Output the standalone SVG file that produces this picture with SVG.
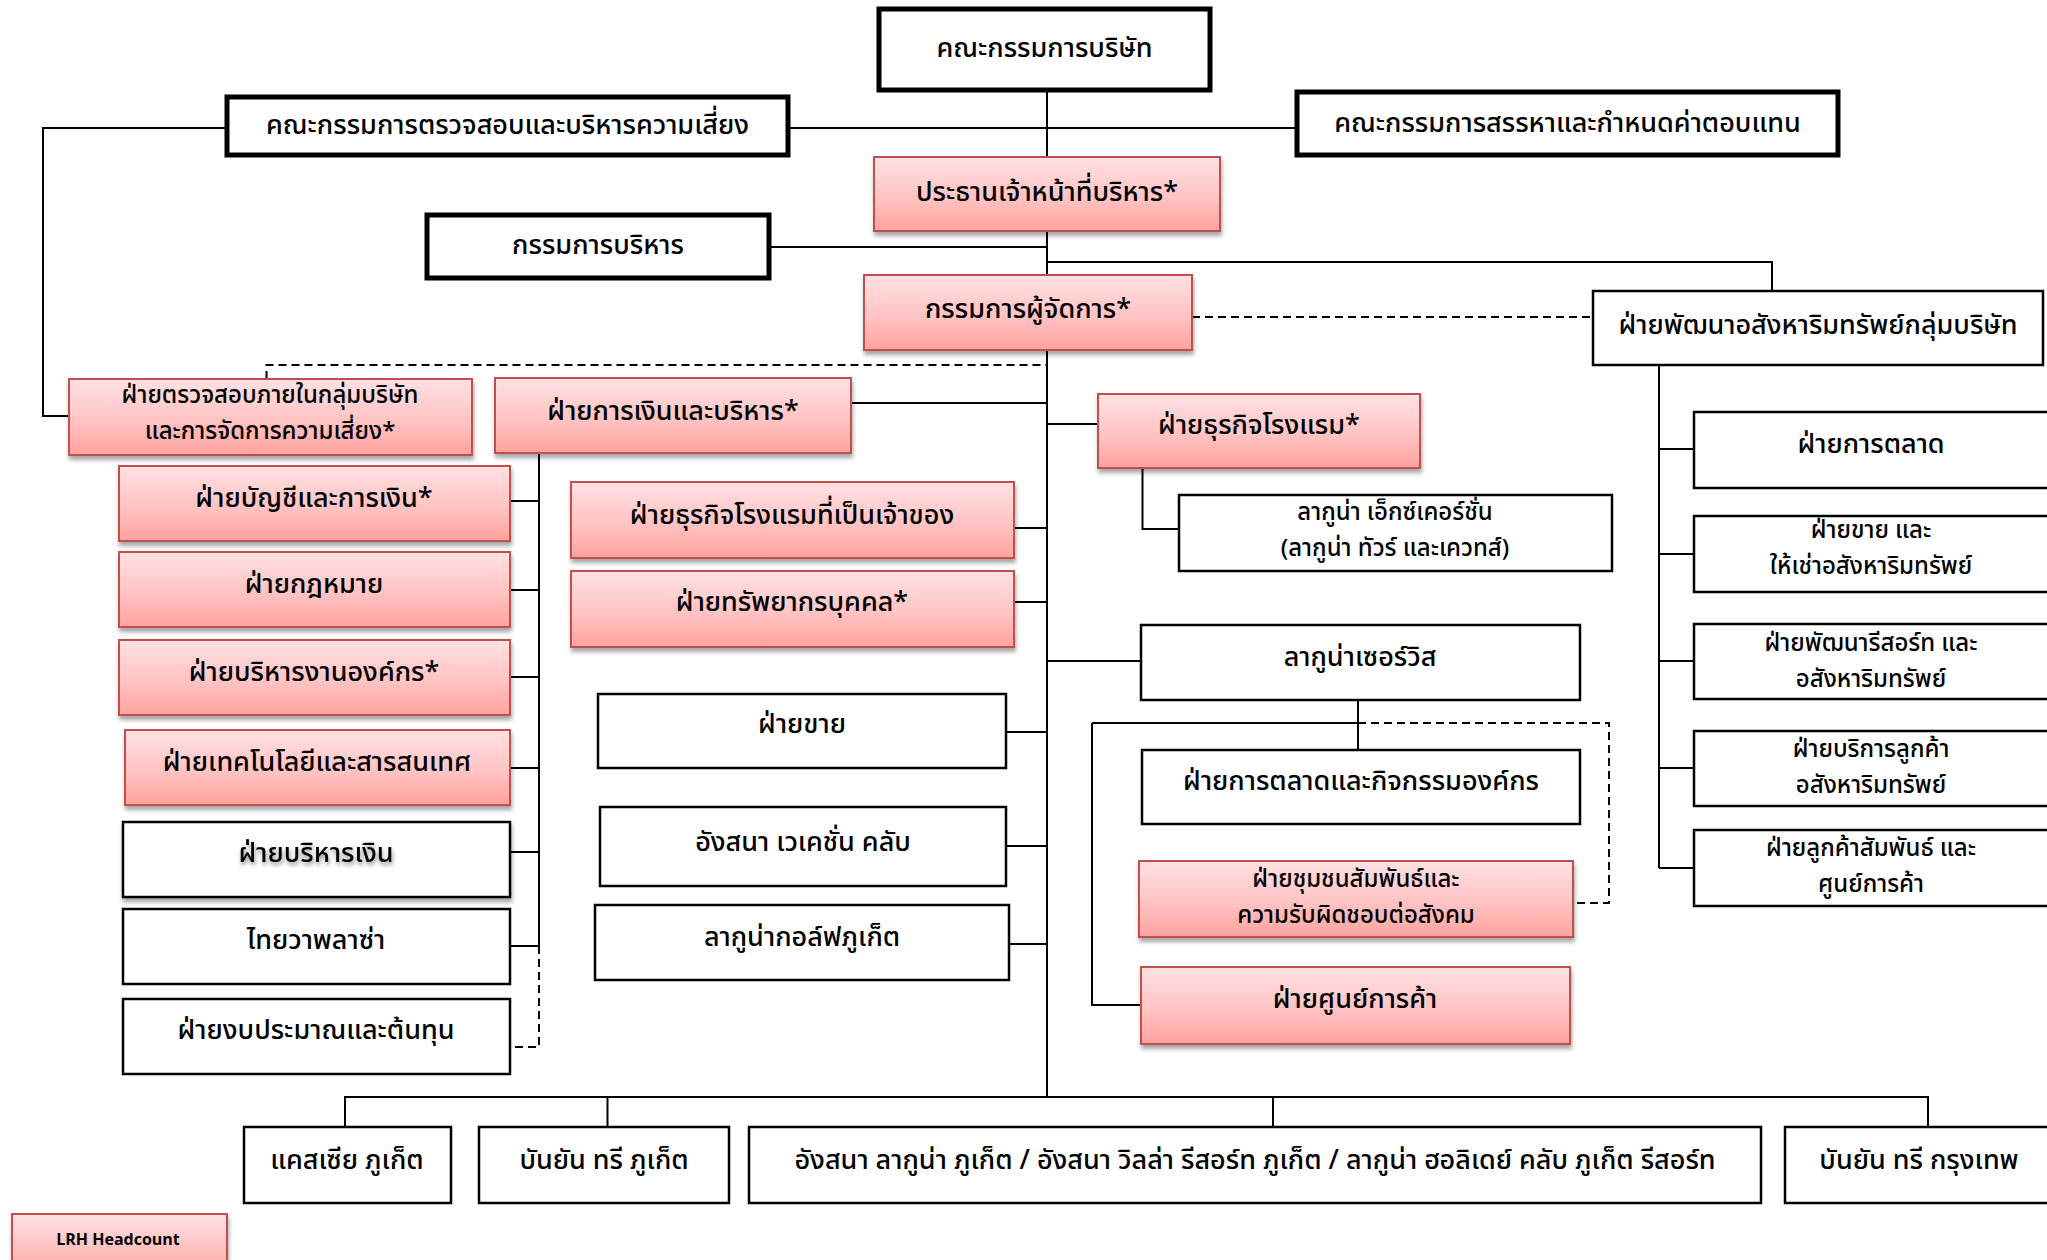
<svg xmlns="http://www.w3.org/2000/svg" width="2047" height="1260" viewBox="0 0 2047 1260">
<defs>
<linearGradient id="pg" x1="0" y1="0" x2="0" y2="1">
<stop offset="0" stop-color="#FFE1E3"/>
<stop offset="0.55" stop-color="#FFC3C3"/>
<stop offset="1" stop-color="#FFA29E"/>
</linearGradient>
<filter id="sh" x="-10%" y="-10%" width="125%" height="140%">
<feDropShadow dx="1" dy="4" stdDeviation="2" flood-color="#000" flood-opacity="0.35"/>
</filter>
<filter id="tsh" x="-10%" y="-30%" width="120%" height="170%">
<feDropShadow dx="1" dy="3" stdDeviation="2" flood-color="#000" flood-opacity="0.45"/>
</filter>
<style>
.thick{fill:#fff;stroke:#000;stroke-width:5}
.plain{fill:#fff;stroke:#000;stroke-width:2.5}
.pink{fill:url(#pg);stroke:#C0504D;stroke-width:2;filter:url(#sh)}
.ln{fill:none;stroke:#000;stroke-width:2}
.dash{fill:none;stroke:#000;stroke-width:2;stroke-dasharray:8 5}
text{font-family:"Noto Sans Thai","Noto Sans","DejaVu Sans",sans-serif;font-size:27px;font-weight:500;text-anchor:middle;dominant-baseline:central;fill:#000}
text.two{font-size:24px}
.lg{font-family:"Open Sans","Liberation Sans",sans-serif;font-weight:bold;font-size:16px}
</style>
</defs>
<g id="connectors">
<path class="ln" d="M1047,90 V1097"/>
<path class="ln" d="M788,128 H1297"/>
<path class="ln" d="M227,128 H43 V416 H69"/>
<path class="ln" d="M769,247 H1047"/>
<path class="ln" d="M1047,262 H1772 V291"/>
<path class="dash" d="M1192,317 H1593"/>
<path class="dash" d="M266.5,379 V365 H1047"/>
<path class="ln" d="M851,403 H1047"/>
<path class="ln" d="M539,453 V946"/>
<path class="ln" d="M510,501 H539 M510,590 H539 M510,677 H539 M510,768 H539 M510,852 H539 M510,946 H539"/>
<path class="dash" d="M539,946 V1047 H510"/>
<path class="ln" d="M1014,528 H1047 M1014,602 H1047 M1006,732 H1047 M1006,846 H1047 M1009,944 H1047"/>
<path class="ln" d="M1047,424 H1098"/>
<path class="ln" d="M1142.5,468 V529 H1179"/>
<path class="ln" d="M1047,661 H1141"/>
<path class="ln" d="M1358,700 V750"/>
<path class="ln" d="M1092,723 H1358"/>
<path class="dash" d="M1358,723 H1609 V903 H1573"/>
<path class="ln" d="M1092,723 V1005 H1141"/>
<path class="ln" d="M1659,365 V868"/>
<path class="ln" d="M1659,449 H1694 M1659,554 H1694 M1659,661 H1694 M1659,768 H1694 M1659,868 H1694"/>
<path class="ln" d="M345,1127 V1097 H1928 V1127 M607.5,1097 V1127 M1273,1097 V1127"/>
</g>
<g id="board"><rect class="thick" x="879" y="9" width="331" height="81"/><text x="1044.5" y="48">คณะกรรมการบริษัท</text></g>
<g id="audit-committee"><rect class="thick" x="227" y="97" width="561" height="58"/><text x="507.5" y="125">คณะกรรมการตรวจสอบและบริหารความเสี่ยง</text></g>
<g id="nomination-committee"><rect class="thick" x="1297" y="92" width="541" height="63"/><text x="1567.5" y="123">คณะกรรมการสรรหาและกำหนดค่าตอบแทน</text></g>
<g id="ceo"><rect class="pink" x="874" y="157" width="346" height="74"/><text x="1047" y="192">ประธานเจ้าหน้าที่บริหาร*</text></g>
<g id="exec-committee"><rect class="thick" x="427" y="215" width="342" height="63"/><text x="598" y="245">กรรมการบริหาร</text></g>
<g id="md"><rect class="pink" x="864" y="275" width="328" height="75"/><text x="1028" y="309">กรรมการผู้จัดการ*</text></g>
<g id="property-dev"><rect class="plain" x="1593" y="291" width="450" height="74"/><text x="1818" y="325">ฝ่ายพัฒนาอสังหาริมทรัพย์กลุ่มบริษัท</text></g>
<g id="internal-audit"><rect class="pink" x="69" y="379" width="403" height="76"/><text class="two" x="270" y="396">ฝ่ายตรวจสอบภายในกลุ่มบริษัท</text><text class="two" x="270" y="432">และการจัดการความเสี่ยง*</text></g>
<g id="finance-admin"><rect class="pink" x="495" y="378" width="356" height="75"/><text x="673" y="411">ฝ่ายการเงินและบริหาร*</text></g>
<g id="accounting"><rect class="pink" x="119" y="466" width="391" height="75"/><text x="314" y="498">ฝ่ายบัญชีและการเงิน*</text></g>
<g id="legal"><rect class="pink" x="119" y="552" width="391" height="75"/><text x="314" y="584">ฝ่ายกฎหมาย</text></g>
<g id="org-admin"><rect class="pink" x="119" y="640" width="391" height="75"/><text x="314" y="672">ฝ่ายบริหารงานองค์กร*</text></g>
<g id="it"><rect class="pink" x="125" y="730" width="385" height="75"/><text x="317" y="762">ฝ่ายเทคโนโลยีและสารสนเทศ</text></g>
<g id="treasury"><rect class="plain" x="123" y="822" width="387" height="75" filter="url(#sh)"/><text x="316" y="853" filter="url(#tsh)">ฝ่ายบริหารเงิน</text></g>
<g id="thaiwah"><rect class="plain" x="123" y="909" width="387" height="75"/><text x="316" y="940">ไทยวาพลาซ่า</text></g>
<g id="budget"><rect class="plain" x="123" y="999" width="387" height="75"/><text x="316" y="1030">ฝ่ายงบประมาณและต้นทุน</text></g>
<g id="owned-hotel"><rect class="pink" x="571" y="482" width="443" height="76"/><text x="792" y="515">ฝ่ายธุรกิจโรงแรมที่เป็นเจ้าของ</text></g>
<g id="hr"><rect class="pink" x="571" y="571" width="443" height="76"/><text x="792" y="602">ฝ่ายทรัพยากรบุคคล*</text></g>
<g id="sales"><rect class="plain" x="598" y="694" width="408" height="74"/><text x="802" y="724">ฝ่ายขาย</text></g>
<g id="vacation-club"><rect class="plain" x="600" y="807" width="406" height="79"/><text x="803" y="842">อังสนา เวเคชั่น คลับ</text></g>
<g id="golf"><rect class="plain" x="595" y="905" width="414" height="75"/><text x="802" y="937">ลากูน่ากอล์ฟภูเก็ต</text></g>
<g id="hotel-business"><rect class="pink" x="1098" y="394" width="322" height="74"/><text x="1259" y="425">ฝ่ายธุรกิจโรงแรม*</text></g>
<g id="excursion"><rect class="plain" x="1179" y="495" width="433" height="76"/><text class="two" x="1395" y="513">ลากูน่า เอ็กซ์เคอร์ชั่น</text><text class="two" x="1395" y="549">(ลากูน่า ทัวร์ และเควทส์)</text></g>
<g id="laguna-service"><rect class="plain" x="1141" y="625" width="439" height="75"/><text x="1360" y="657">ลากูน่าเซอร์วิส</text></g>
<g id="marketing-corp"><rect class="plain" x="1142" y="750" width="438" height="74"/><text x="1361" y="781">ฝ่ายการตลาดและกิจกรรมองค์กร</text></g>
<g id="csr"><rect class="pink" x="1139" y="861" width="434" height="76"/><text class="two" x="1356" y="880">ฝ่ายชุมชนสัมพันธ์และ</text><text class="two" x="1356" y="916">ความรับผิดชอบต่อสังคม</text></g>
<g id="mall"><rect class="pink" x="1141" y="967" width="429" height="77"/><text x="1355" y="999">ฝ่ายศูนย์การค้า</text></g>
<g id="marketing"><rect class="plain" x="1694" y="412" width="360" height="76"/><text x="1871" y="444">ฝ่ายการตลาด</text></g>
<g id="sales-lease"><rect class="plain" x="1694" y="516" width="360" height="76"/><text class="two" x="1871" y="531">ฝ่ายขาย และ</text><text class="two" x="1871" y="567">ให้เช่าอสังหาริมทรัพย์</text></g>
<g id="resort-dev"><rect class="plain" x="1694" y="624" width="360" height="75"/><text class="two" x="1871" y="644">ฝ่ายพัฒนารีสอร์ท และ</text><text class="two" x="1871" y="680">อสังหาริมทรัพย์</text></g>
<g id="customer-service"><rect class="plain" x="1694" y="731" width="360" height="75"/><text class="two" x="1871" y="750">ฝ่ายบริการลูกค้า</text><text class="two" x="1871" y="786">อสังหาริมทรัพย์</text></g>
<g id="customer-relations"><rect class="plain" x="1694" y="830" width="360" height="76"/><text class="two" x="1871" y="849">ฝ่ายลูกค้าสัมพันธ์ และ</text><text class="two" x="1871" y="885">ศูนย์การค้า</text></g>
<g id="cassia"><rect class="plain" x="244" y="1127" width="207" height="76"/><text x="347" y="1160">แคสเซีย ภูเก็ต</text></g>
<g id="banyan-phuket"><rect class="plain" x="479" y="1127" width="250" height="76"/><text x="604" y="1160">บันยัน ทรี ภูเก็ต</text></g>
<g id="angsana-group"><rect class="plain" x="749" y="1127" width="1012" height="76"/><text x="1255" y="1160">อังสนา ลากูน่า ภูเก็ต / อังสนา วิลล่า รีสอร์ท ภูเก็ต / ลากูน่า ฮอลิเดย์ คลับ ภูเก็ต รีสอร์ท</text></g>
<g id="banyan-bangkok"><rect class="plain" x="1785" y="1127" width="275" height="76"/><text x="1919" y="1160">บันยัน ทรี กรุงเทพ</text></g>
<g id="legend"><rect class="pink" x="12" y="1214" width="215" height="60"/><text class="lg" x="118" y="1239">LRH Headcount</text></g>
</svg>
